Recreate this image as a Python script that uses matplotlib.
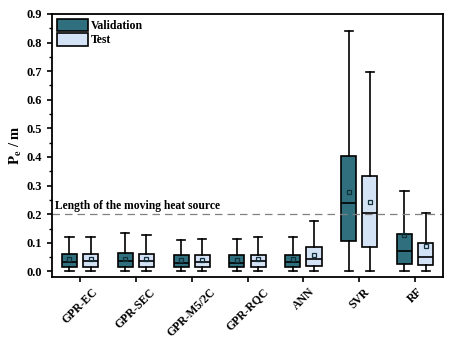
import matplotlib
matplotlib.use('Agg')
from matplotlib import pyplot as plt
from matplotlib.patches import Patch
from matplotlib.ticker import MultipleLocator

plt.rcParams['font.family'] = ['Liberation Serif', 'DejaVu Serif']
plt.rcParams['font.weight'] = 'bold'
plt.rcParams['mathtext.fontset'] = 'stix'

models = ['GPR-EC', 'GPR-SEC', 'GPR-M5/2C', 'GPR-RQC', 'ANN', 'SVR', 'RF']

# validation set: whisker low, q1, median, q3, whisker high, mean
val_low = [0.0, 0.0, 0.0, 0.0, 0.0, 0.0, 0.0]
val_q1 = [0.015, 0.015, 0.015, 0.016, 0.016, 0.105, 0.027]
val_med = [0.033, 0.035, 0.030, 0.030, 0.033, 0.239, 0.070]
val_q3 = [0.061, 0.064, 0.057, 0.056, 0.057, 0.402, 0.130]
val_high = [0.120, 0.134, 0.111, 0.114, 0.120, 0.839, 0.282]
val_mean = [0.043, 0.044, 0.040, 0.041, 0.043, 0.278, 0.126]

# test set
test_low = [0.0, 0.0, 0.0, 0.0, 0.0, 0.0, 0.0]
test_q1 = [0.015, 0.015, 0.015, 0.016, 0.020, 0.086, 0.022]
test_med = [0.035, 0.035, 0.033, 0.037, 0.045, 0.203, 0.052]
test_q3 = [0.060, 0.061, 0.057, 0.058, 0.085, 0.335, 0.098]
test_high = [0.122, 0.126, 0.115, 0.120, 0.178, 0.696, 0.205]
test_mean = [0.043, 0.043, 0.040, 0.042, 0.056, 0.244, 0.088]

threshold = 0.2

val_color = '#2f6f7e'
test_color = '#d4e2f5'


def make_stats(low, q1, med, q3, high, mean):
    return [dict(whislo=a, q1=b, med=c, q3=d, whishi=e, mean=f, fliers=[])
            for a, b, c, d, e, f in zip(low, q1, med, q3, high, mean)]


fig = plt.figure(figsize=(4.53, 3.47), dpi=100)
ax = fig.add_axes([0.115, 0.202, 0.863, 0.758])

pos = list(range(1, len(models) + 1))
offset = 0.19
width = 0.27

for stats, color, shift in [
        (make_stats(val_low, val_q1, val_med, val_q3, val_high, val_mean), val_color, -offset),
        (make_stats(test_low, test_q1, test_med, test_q3, test_high, test_mean), test_color, offset)]:
    ax.bxp(stats, positions=[p + shift for p in pos], widths=width,
           patch_artist=True, showmeans=True, showfliers=False,
           boxprops=dict(facecolor=color, edgecolor='black', linewidth=1.2),
           medianprops=dict(color='black', linewidth=1.2),
           whiskerprops=dict(color='black', linewidth=1.2),
           capprops=dict(color='black', linewidth=1.2),
           capwidths=width * 0.55,
           meanprops=dict(marker='s', markersize=2.5, markerfacecolor='none',
                          markeredgecolor='#10303a', markeredgewidth=0.9))

ax.axhline(threshold, color='gray', linestyle=(0, (6, 4)), linewidth=0.9)
ax.text(0.55, threshold + 0.008, 'Length of the moving heat source',
        fontsize=8.4, fontweight='bold', va='bottom', ha='left')

ax.set_xlim(0.5, 7.5)
ax.set_xticks(pos)
ax.set_xticklabels(models, rotation=45, ha='center', va='top',
                   fontsize=8.5, fontweight='bold')
ax.yaxis.set_major_locator(MultipleLocator(0.1))
ax.yaxis.set_minor_locator(MultipleLocator(0.05))
yt = [i / 10 for i in range(10)]
ax.set_yticks(yt)
ax.set_yticklabels(['%.1f' % t for t in yt], fontsize=9, fontweight='bold')
ax.set_ylim(-0.019, 0.9)
ax.tick_params(axis='both', which='major', direction='out', length=3.5, width=1.2)
ax.tick_params(axis='x', which='major', pad=3)
ax.tick_params(axis='y', which='minor', direction='out', length=2, width=1.0)
ax.set_ylabel(r'$\mathbf{P_e}$ / m', fontsize=10.5, fontweight='bold', labelpad=2)
for s in ax.spines.values():
    s.set_linewidth(1.3)

handles = [Patch(facecolor=val_color, edgecolor='black', linewidth=1.2, label='Validation'),
           Patch(facecolor=test_color, edgecolor='black', linewidth=1.2, label='Test')]
ax.legend(handles=handles, loc='upper left', frameon=False,
          handlelength=2.6, handleheight=1.2, handletextpad=0.3,
          labelspacing=0.15, borderaxespad=0.2, borderpad=0.2,
          prop=dict(weight='bold', size=8.5))

fig.savefig('out.png', dpi=100)
